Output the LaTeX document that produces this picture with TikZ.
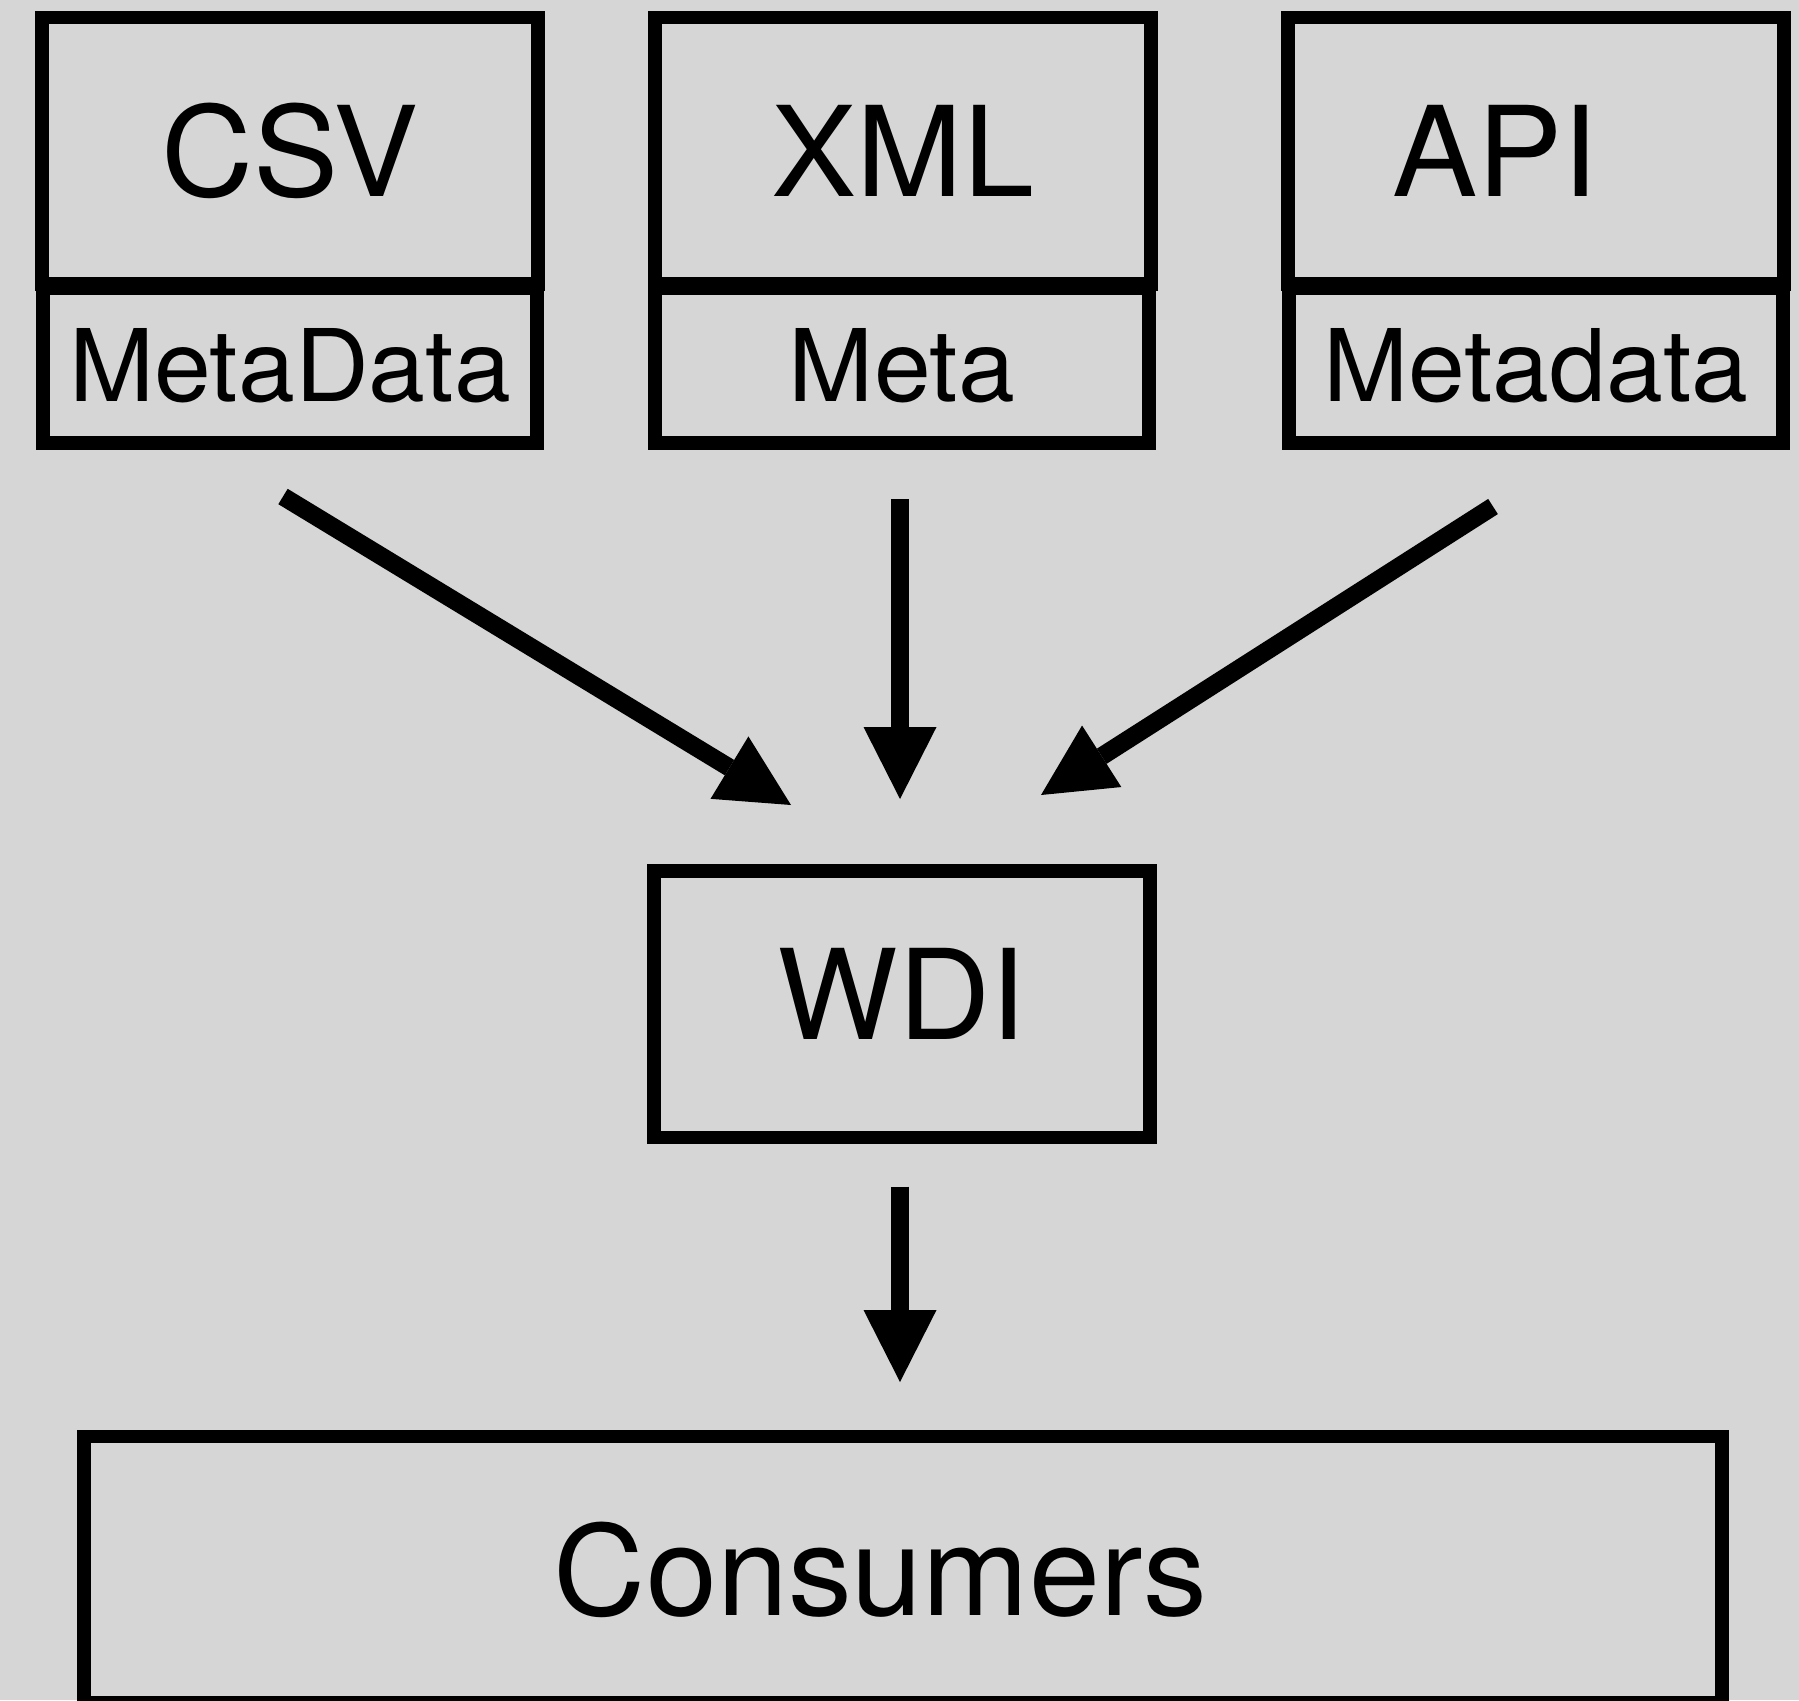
\documentclass[tikz,border=0pt]{standalone}
\usepackage{fontspec}
\setmainfont[FakeStretch=1.02]{TeX Gyre Heros}
\usetikzlibrary{arrows.meta}
\definecolor{bggrey}{RGB}{214,214,214}
\begin{document}
\begin{tikzpicture}
    \tikzstyle{bigbox}=[draw=black, line width=0.133cm, inner sep=0pt, minimum width=4.96cm, minimum height=2.665cm, font=\fontsize{35.6pt}{40pt}\selectfont]
    \tikzstyle{metabox}=[draw=black, line width=0.133cm, inner sep=0pt, minimum width=4.94cm, minimum height=1.545cm, font=\fontsize{28.5pt}{32pt}\selectfont]
    \tikzstyle{flow}=[line width=0.18cm, -{Triangle[length=0.72cm, width=0.73cm, line width=0pt]}]
    \fill[bggrey] (0,0) rectangle (17.99,-17.00);
    \useasboundingbox (0,0) rectangle (17.99,-17.00);
    \node[bigbox] (csv) at (2.90,-1.5075){CSV};
    \node[metabox] (csvmeta) at (2.90,-3.6575){MetaData};
    \node[bigbox] (xml) at (9.03,-1.5075){XML};
    \node[metabox] (xmlmeta) at (9.02,-3.6575){Meta};
    \node[bigbox] (api) at (15.36,-1.5075){API\makebox[0.82cm]{}};
    \node[metabox] (apimeta) at (15.36,-3.6575){Metadata};
    \node[bigbox, text depth=0.2cm] (wdi) at (9.02,-10.0425){WDI};
    \node[bigbox, minimum width=16.38cm] (consumers) at (9.03,-15.6975){Consumers\makebox[0.45cm]{}};
    \coordinate (csvout) at (2.83,-4.965);
    \coordinate (wdiinl) at (7.91,-8.05);
    \coordinate (xmlout) at (9.00,-4.99);
    \coordinate (wdiin) at (9.00,-7.99);
    \coordinate (apiout) at (14.93,-5.065);
    \coordinate (wdiinr) at (10.41,-7.95);
    \coordinate (wdiout) at (9.00,-11.867);
    \coordinate (consin) at (9.00,-13.82);
    \draw[flow] (csvout) -- (wdiinl);
    \draw[flow] (xmlout) -- (wdiin);
    \draw[flow] (apiout) -- (wdiinr);
    \draw[flow] (wdiout) -- (consin);
\end{tikzpicture}
\end{document}
